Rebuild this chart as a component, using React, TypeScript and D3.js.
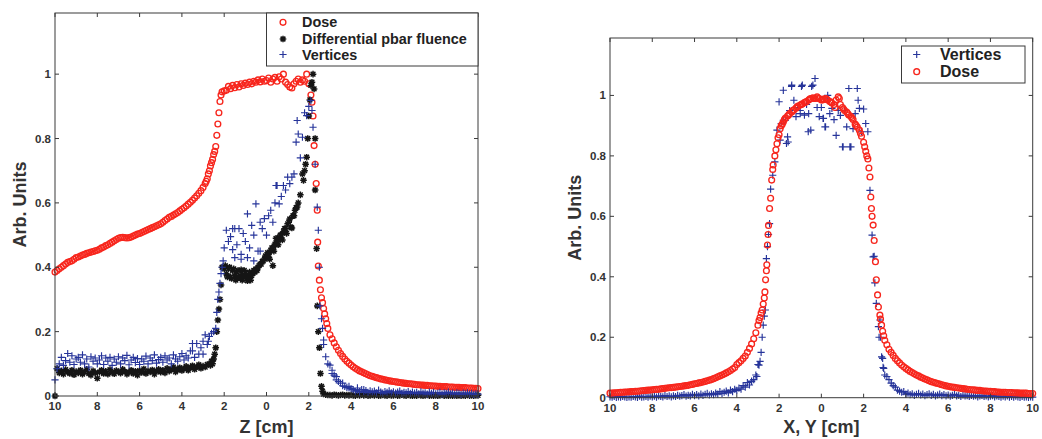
import React from "react";
import * as d3 from "d3";

// ---------- data (grid: -10 .. 10 cm, step 0.1) ----------
const GRID_START = -10;
const GRID_STEP = 0.1;

const zDose = [
  0.385,0.39,0.395,0.40,0.405,0.41,0.415,0.418,0.42,0.425,
  0.43,0.432,0.435,0.438,0.44,0.443,0.445,0.447,0.449,0.451,
  0.453,0.456,0.46,0.463,0.467,0.47,0.474,0.478,0.482,0.486,
  0.49,0.492,0.493,0.492,0.491,0.492,0.494,0.497,0.5,0.503,
  0.505,0.508,0.511,0.514,0.517,0.52,0.523,0.526,0.529,0.532,
  0.535,0.54,0.545,0.55,0.555,0.558,0.562,0.566,0.57,0.575,
  0.58,0.585,0.59,0.596,0.602,0.608,0.615,0.622,0.63,0.638,
  0.648,0.66,0.675,0.70,0.725,0.75,0.775,0.845,0.915,0.945,
  0.948,0.95,0.962,0.955,0.965,0.958,0.968,0.96,0.97,0.965,
  0.972,0.968,0.975,0.97,0.978,0.975,0.982,0.976,0.985,0.978,
  0.98,0.988,0.975,0.985,0.99,0.978,0.992,0.985,1.0,0.975,
  0.968,0.96,0.957,0.97,0.978,0.985,0.975,0.982,0.978,1.0,
  0.97,0.935,0.87,0.72,0.577,0.36,0.305,0.272,0.24,0.21,
  0.19,0.178,0.165,0.153,0.142,0.132,0.123,0.115,0.108,0.102,
  0.096,0.091,0.086,0.082,0.078,0.075,0.072,0.069,0.066,0.063,
  0.061,0.059,0.057,0.055,0.053,0.052,0.05,0.049,0.047,0.046,
  0.045,0.044,0.043,0.042,0.041,0.04,0.039,0.038,0.038,0.037,
  0.036,0.035,0.035,0.034,0.034,0.033,0.033,0.032,0.032,0.031,
  0.031,0.03,0.03,0.029,0.029,0.029,0.028,0.028,0.028,0.027,
  0.027,0.027,0.026,0.026,0.026,0.025,0.025,0.025,0.024,0.024,
  0.023,
];
const zDoseExtra = [
  [-2.85,0.667],[-2.75,0.69],[-2.65,0.715],[-2.55,0.735],[-2.45,0.76],[-2.35,0.81],
  [-2.25,0.88],[-2.15,0.935],[2.15,0.913],[2.25,0.778],[2.35,0.66],[2.42,0.478],
  [2.45,0.404],[2.55,0.33],[2.65,0.29],[2.75,0.255],[2.85,0.225],
];

const zFluence = [
  0.0,0.085,0.072,0.078,0.068,0.082,0.074,0.07,0.08,0.066,
  0.076,0.072,0.08,0.068,0.075,0.083,0.07,0.065,0.078,0.072,
  0.055,0.074,0.08,0.07,0.077,0.068,0.082,0.073,0.069,0.079,
  0.075,0.071,0.083,0.076,0.068,0.074,0.08,0.07,0.077,0.065,
  0.079,0.073,0.084,0.07,0.078,0.075,0.081,0.068,0.077,0.083,
  0.074,0.08,0.072,0.086,0.077,0.083,0.09,0.075,0.082,0.088,
  0.079,0.085,0.092,0.08,0.088,0.094,0.083,0.09,0.097,0.086,
  0.093,0.09,0.098,0.1,0.108,0.115,0.15,0.236,0.30,0.40,
  0.395,0.38,0.395,0.37,0.39,0.375,0.385,0.368,0.392,0.372,
  0.38,0.358,0.385,0.375,0.39,0.395,0.40,0.41,0.418,0.425,
  0.43,0.44,0.452,0.46,0.472,0.48,0.49,0.5,0.51,0.52,
  0.535,0.55,0.522,0.56,0.585,0.6,0.625,0.69,0.7,0.742,
  0.87,0.965,1.0,0.80,0.28,0.15,0.03,0.006,0.004,0.003,
  0.003,0.002,0.004,0.003,0.002,0.003,0.004,0.002,0.003,0.002,
  0.003,0.002,0.001,0.003,0.002,0.004,0.002,0.003,0.001,0.002,
  0.003,0.002,0.004,0.001,0.002,0.003,0.002,0.001,0.003,0.002,
  0.002,0.003,0.001,0.002,0.004,0.002,0.001,0.003,0.002,0.001,
  0.002,0.001,0.003,0.002,0.001,0.002,0.003,0.001,0.002,0.001,
  0.002,0.001,0.002,0.003,0.001,0.002,0.001,0.002,0.001,0.002,
  0.001,0.002,0.001,0.002,0.001,0.003,0.001,0.002,0.001,0.002,
  0.002,
];
const zFluenceExtra = [
  [-2.65,0.095],[-2.55,0.1],[-2.45,0.13],[-2.35,0.2],[-2.25,0.27],[-2.15,0.345],
  [-1.95,0.405],[-1.85,0.37],[-1.75,0.4],[-1.65,0.365],[-1.55,0.395],[-1.45,0.36],
  [-1.35,0.39],[-1.25,0.375],[-1.15,0.36],[-1.05,0.39],[-0.95,0.365],[-0.85,0.375],
  [-0.75,0.36],[-0.65,0.38],[-0.55,0.385],[-0.45,0.39],[-0.35,0.405],[-0.25,0.41],
  [-0.15,0.42],[-0.05,0.435],[0.3,0.405],[0.05,0.445],[0.15,0.425],[0.25,0.46],
  [0.35,0.45],[0.45,0.49],[0.55,0.47],[0.65,0.5],[0.75,0.485],[0.85,0.52],
  [0.95,0.505],[1.05,0.54],[1.15,0.525],[1.25,0.56],[1.35,0.577],[1.45,0.587],
  [1.75,0.67],[1.85,0.72],[1.95,0.8],[2.05,0.92],[2.15,0.975],[2.25,0.954],
  [2.3,0.64],[2.37,0.458],[2.45,0.2],[2.55,0.07],[2.65,0.015],
];

const zVertices = [
  0.05,0.085,0.1,0.12,0.095,0.11,0.132,0.105,0.125,0.098,
  0.115,0.12,0.105,0.128,0.1,0.115,0.09,0.122,0.108,0.118,
  0.1,0.112,0.125,0.098,0.118,0.108,0.12,0.095,0.115,0.105,
  0.122,0.1,0.118,0.11,0.126,0.097,0.112,0.12,0.104,0.116,
  0.098,0.115,0.108,0.124,0.1,0.118,0.11,0.128,0.102,0.113,
  0.12,0.105,0.125,0.112,0.118,0.1,0.128,0.115,0.108,0.122,
  0.132,0.112,0.125,0.118,0.14,0.163,0.12,0.163,0.13,0.15,
  0.17,0.19,0.16,0.185,0.195,0.2,0.21,0.3,0.35,0.4,
  0.46,0.515,0.48,0.495,0.455,0.52,0.47,0.52,0.44,0.505,
  0.48,0.566,0.46,0.53,0.5,0.597,0.45,0.54,0.52,0.551,
  0.5,0.56,0.577,0.54,0.6,0.654,0.597,0.62,0.654,0.64,
  0.68,0.66,0.68,0.69,0.789,0.814,0.74,0.804,0.88,0.871,
  0.9,0.918,0.835,0.72,0.587,0.40,0.24,0.174,0.122,0.1,
  0.096,0.07,0.065,0.05,0.045,0.04,0.032,0.03,0.027,0.025,
  0.022,0.02,0.015,0.018,0.012,0.02,0.014,0.017,0.011,0.016,
  0.013,0.015,0.01,0.018,0.012,0.009,0.014,0.011,0.016,0.01,
  0.013,0.009,0.012,0.015,0.008,0.011,0.01,0.014,0.008,0.012,
  0.009,0.011,0.007,0.013,0.009,0.01,0.006,0.012,0.008,0.011,
  0.007,0.009,0.011,0.006,0.01,0.008,0.012,0.007,0.009,0.006,
  0.01,0.008,0.005,0.009,0.007,0.01,0.006,0.008,0.005,0.007,
  0.006,
];
const zVerticesExtra = [
  [-3.5,0.14],[-3.0,0.13],[-2.75,0.17],[-2.35,0.26],[-2.25,0.323],[-2.15,0.38],
  [-2.05,0.42],[-1.5,0.43],[-1.2,0.425],[-0.9,0.43],[-0.6,0.42],[-1.6,0.52],
  [-0.3,0.45],[0.45,0.654],[1.45,0.856],[2.15,0.887],[2.45,0.515],[2.53,0.28],
  [2.65,0.21],[2.7,0.16],[3.1,0.08],[3.3,0.06],[3.6,0.04],[3.9,0.03],[4.3,0.025],[4.6,0.02],
];

const xyDose = [
  0.015,0.0155,0.016,0.0165,0.017,0.0175,0.018,0.0185,0.019,0.0195,
  0.02,0.0205,0.021,0.0215,0.022,0.023,0.0235,0.024,0.025,0.0255,
  0.026,0.027,0.0275,0.028,0.029,0.03,0.031,0.032,0.033,0.0335,
  0.034,0.035,0.036,0.037,0.038,0.039,0.04,0.041,0.043,0.044,
  0.046,0.047,0.049,0.05,0.052,0.054,0.056,0.058,0.06,0.063,
  0.066,0.069,0.072,0.075,0.078,0.082,0.086,0.09,0.095,0.1,
  0.11,0.116,0.122,0.13,0.138,0.15,0.163,0.178,0.195,0.215,
  0.24,0.265,0.29,0.33,0.42,0.57,0.66,0.755,0.80,0.84,
  0.87,0.9,0.912,0.925,0.932,0.94,0.945,0.952,0.958,0.965,
  0.968,0.972,0.976,0.98,0.985,0.99,0.992,0.99,0.995,0.99,
  0.985,0.988,0.99,0.985,0.98,0.975,0.97,0.985,0.995,0.97,
  0.96,0.95,0.945,0.935,0.93,0.92,0.905,0.895,0.885,0.865,
  0.845,0.815,0.79,0.73,0.6,0.52,0.39,0.30,0.26,0.22,
  0.19,0.175,0.16,0.15,0.14,0.13,0.122,0.115,0.108,0.102,
  0.097,0.092,0.087,0.083,0.079,0.075,0.072,0.068,0.065,0.062,
  0.059,0.056,0.053,0.051,0.049,0.047,0.045,0.043,0.041,0.039,
  0.038,0.036,0.035,0.034,0.033,0.032,0.031,0.03,0.029,0.028,
  0.027,0.026,0.026,0.025,0.024,0.024,0.023,0.022,0.022,0.021,
  0.021,0.02,0.02,0.019,0.019,0.018,0.018,0.018,0.017,0.017,
  0.017,0.016,0.016,0.016,0.015,0.015,0.015,0.015,0.014,0.014,
  0.014,
];
const xyDoseExtra = [
  [-2.95,0.255],[-2.85,0.28],[-2.75,0.31],[-2.67,0.35],[-2.64,0.39],[-2.58,0.44],
  [-2.55,0.505],[-2.52,0.54],[-2.45,0.626],[-2.35,0.72],[-2.28,0.77],[-2.15,0.82],
  [-2.05,0.86],[-1.95,0.89],[-1.85,0.905],[-1.75,0.92],[-1.55,0.935],[-1.35,0.95],
  [-1.15,0.962],[-0.95,0.97],[-0.75,0.978],[-0.55,0.988],[-0.35,0.99],[-0.15,0.99],
  [0.05,0.985],[0.25,0.988],[0.45,0.978],[0.65,0.96],[0.85,0.99],[1.05,0.955],
  [1.25,0.94],[1.45,0.925],[1.65,0.9],[1.85,0.875],[2.05,0.83],[2.15,0.8],
  [2.25,0.76],[2.34,0.664],[2.37,0.626],[2.45,0.571],[2.56,0.45],[2.66,0.34],
  [2.77,0.273],[2.85,0.24],[2.95,0.205],
];

const xyVertices = [
  0.003,0.002,0.004,0.001,0.003,0.002,0.004,0.003,0.001,0.003,
  0.002,0.004,0.003,0.001,0.005,0.002,0.003,0.004,0.002,0.005,
  0.003,0.005,0.002,0.006,0.004,0.003,0.007,0.004,0.006,0.003,
  0.006,0.004,0.008,0.005,0.007,0.01,0.005,0.008,0.006,0.011,
  0.007,0.01,0.006,0.012,0.008,0.011,0.014,0.009,0.013,0.01,
  0.015,0.012,0.02,0.014,0.018,0.022,0.016,0.025,0.02,0.028,
  0.024,0.032,0.028,0.04,0.035,0.05,0.042,0.055,0.06,0.075,
  0.11,0.12,0.2,0.27,0.46,0.54,0.69,0.736,0.78,0.885,
  0.979,0.907,1.017,0.918,0.863,0.95,1.034,0.984,0.93,0.96,
  0.94,1.034,0.935,0.97,0.94,0.885,1.034,1.056,0.96,0.93,
  0.96,0.924,0.896,1.0,0.94,0.957,0.92,0.868,0.95,0.934,
  0.83,0.95,0.896,1.023,0.83,0.89,0.94,1.023,0.957,0.88,
  0.955,0.907,0.88,0.686,0.538,0.468,0.312,0.235,0.2,0.13,
  0.075,0.07,0.06,0.048,0.04,0.035,0.025,0.022,0.018,0.02,
  0.012,0.015,0.01,0.013,0.008,0.011,0.014,0.009,0.012,0.007,
  0.01,0.013,0.008,0.011,0.006,0.009,0.012,0.007,0.01,0.006,
  0.009,0.005,0.008,0.011,0.006,0.008,0.004,0.009,0.006,0.007,
  0.004,0.008,0.005,0.007,0.003,0.006,0.008,0.004,0.006,0.003,
  0.005,0.007,0.003,0.006,0.004,0.002,0.005,0.003,0.006,0.002,
  0.004,0.002,0.005,0.003,0.001,0.004,0.002,0.003,0.001,0.003,
  0.002,
];
const xyVerticesExtra = [
  [-3.3,0.053],[-3.05,0.07],[-2.95,0.108],[-2.85,0.15],[-2.75,0.24],[-2.65,0.29],
  [-2.55,0.5],[-2.45,0.576],[-1.95,0.852],[-1.8,0.918],[-1.65,0.841],[-1.57,0.846],
  [-1.41,1.03],[-1.0,0.95],[-0.94,1.03],[-0.62,0.88],[-0.46,1.03],[0.08,0.924],
  [0.17,0.896],[1.03,0.83],[1.35,0.83],[1.74,0.984],[2.45,0.466],[2.53,0.38],
  [2.73,0.2],[2.77,0.257],[2.85,0.135],[2.92,0.1],[2.95,0.097],[3.31,0.048],
];

const xTickValues = [-10, -8, -6, -4, -2, 0, 2, 4, 6, 8, 10];
const xTickLabels = ["10", "8", "6", "4", "2", "0", "2", "4", "6", "8", "10"];
const yTickValues = [0, 0.2, 0.4, 0.6, 0.8, 1];
const yTickLabels = ["0", "0.2", "0.4", "0.6", "0.8", "1"];
const Y_MAX = 1.19;

// ---------- styles ----------
const RED = "#f7261d";
const BLUE = "#26349a";
const BLACK = "#151515";
const AXIS = "#3a3a3a";
const FONT = "'Liberation Sans', Arial, Helvetica, sans-serif";

function toPoints(vals: number[], extra: number[][]) {
  const pts = vals.map((v, i) => [GRID_START + i * GRID_STEP, v]);
  return pts.concat(extra);
}

type Kind = "circle" | "star" | "plus";

function markerPath(kind: Kind, x: number, y: number) {
  if (kind === "plus") {
    const s = 3.6;
    return `M${x - s},${y}H${x + s}M${x},${y - s}V${y + s}`;
  }
  const s = 3.3;
  const d = s * 0.72;
  return `M${x - s},${y}H${x + s}M${x},${y - s}V${y + s}M${x - d},${y - d}L${x + d},${y + d}M${x - d},${y + d}L${x + d},${y - d}`;
}

function Marks({ kind, pts, sx, sy }: any) {
  if (kind === "circle") {
    return (
      <g fill="none" stroke={RED} strokeWidth={1.35}>
        {pts.map((p: number[], i: number) => (
          <circle key={i} cx={sx(p[0])} cy={sy(p[1])} r={2.9} />
        ))}
      </g>
    );
  }
  const d = pts.map((p: number[]) => markerPath(kind, sx(p[0]), sy(p[1]))).join("");
  return (
    <path
      d={d}
      fill="none"
      stroke={kind === "star" ? BLACK : BLUE}
      strokeWidth={kind === "star" ? 1.5 : 1.15}
    />
  );
}

function LegendSymbol({ kind, x, y }: any) {
  if (kind === "circle") return <circle cx={x} cy={y} r={2.9} fill="none" stroke={RED} strokeWidth={1.35} />;
  return (
    <path d={markerPath(kind, x, y)} fill="none" stroke={kind === "star" ? BLACK : BLUE} strokeWidth={kind === "star" ? 1.5 : 1.15} />
  );
}

function Panel({ x0, x1, y0, y1, series, xLabel, yLabelX, legend }: any) {
  const sx = d3.scaleLinear().domain([-10, 10]).range([x0, x1]);
  const sy = d3.scaleLinear().domain([0, Y_MAX]).range([y1, y0]);
  const tl = 4;
  return (
    <g>
      {series.map((s: any, i: number) => (
        <Marks key={i} kind={s.kind} pts={s.pts} sx={sx} sy={sy} />
      ))}
      <rect x={x0} y={y0} width={x1 - x0} height={y1 - y0} fill="none" stroke={AXIS} strokeWidth={1} />
      <g stroke={AXIS} strokeWidth={1}>
        {xTickValues.map((v, i) => (
          <g key={i}>
            <line x1={sx(v)} x2={sx(v)} y1={y1} y2={y1 - tl} />
            <line x1={sx(v)} x2={sx(v)} y1={y0} y2={y0 + tl} />
          </g>
        ))}
        {yTickValues.map((v, i) => (
          <g key={i}>
            <line x1={x0} x2={x0 + tl} y1={sy(v)} y2={sy(v)} />
            <line x1={x1} x2={x1 - tl} y1={sy(v)} y2={sy(v)} />
          </g>
        ))}
      </g>
      <g fontFamily={FONT} fontWeight="bold" fontSize={11.5} fill="#333">
        {xTickValues.map((v, i) => (
          <text key={i} x={sx(v)} y={y1 + 14} textAnchor="middle">
            {xTickLabels[i]}
          </text>
        ))}
        {yTickValues.map((v, i) => (
          <text key={i} x={x0 - 4} y={sy(v) + 4} textAnchor="end">
            {yTickLabels[i]}
          </text>
        ))}
      </g>
      <text
        x={(x0 + x1) / 2}
        y={433}
        textAnchor="middle"
        fontFamily={FONT}
        fontWeight="bold"
        fontSize={18}
        fill="#333"
      >
        {xLabel}
      </text>
      <text
        transform={`translate(${yLabelX},${(y0 + y1) / 2}) rotate(-90)`}
        textAnchor="middle"
        fontFamily={FONT}
        fontWeight="bold"
        fontSize={18}
        fill="#333"
      >
        Arb. Units
      </text>
      <g>
        <rect x={legend.x} y={legend.y} width={legend.w} height={legend.h} fill="#fff" stroke={AXIS} strokeWidth={1} />
        {legend.items.map((it: any, i: number) => (
          <g key={i}>
            <LegendSymbol kind={it.kind} x={legend.symX} y={it.y} />
            <text
              x={legend.textX}
              y={it.y + legend.fontSize * 0.36}
              fontFamily={FONT}
              fontWeight="bold"
              fontSize={legend.fontSize}
              fill="#222"
            >
              {it.label}
            </text>
          </g>
        ))}
      </g>
    </g>
  );
}

export default function App() {
  const leftSeries = [
    { kind: "circle", pts: toPoints(zDose, zDoseExtra) },
    { kind: "star", pts: toPoints(zFluence, zFluenceExtra) },
    { kind: "plus", pts: toPoints(zVertices, zVerticesExtra) },
  ];
  const rightSeries = [
    { kind: "plus", pts: toPoints(xyVertices, xyVerticesExtra) },
    { kind: "circle", pts: toPoints(xyDose, xyDoseExtra) },
  ];
  return (
    <svg
      width={1042}
      height={439}
      style={{ position: "absolute", left: 0, top: 0, background: "#fff" }}
    >
      <rect width={1042} height={439} fill="#fff" />
      <Panel
        x0={55}
        x1={478}
        y0={13}
        y1={396}
        series={leftSeries}
        xLabel="Z [cm]"
        yLabelX={26}
        legend={{
          x: 266.5,
          y: 13,
          w: 211.5,
          h: 53,
          symX: 283,
          textX: 302,
          fontSize: 14.4,
          items: [
            { kind: "circle", label: "Dose", y: 22.3 },
            { kind: "star", label: "Differential pbar fluence", y: 39 },
            { kind: "plus", label: "Vertices", y: 54.5 },
          ],
        }}
      />
      <Panel
        x0={610}
        x1={1032.7}
        y0={38}
        y1={397.7}
        series={rightSeries}
        xLabel="X, Y [cm]"
        yLabelX={581}
        legend={{
          x: 901.5,
          y: 46,
          w: 123.5,
          h: 37,
          symX: 916.7,
          textX: 940,
          fontSize: 16,
          items: [
            { kind: "plus", label: "Vertices", y: 54.5 },
            { kind: "circle", label: "Dose", y: 71.7 },
          ],
        }}
      />
    </svg>
  );
}
